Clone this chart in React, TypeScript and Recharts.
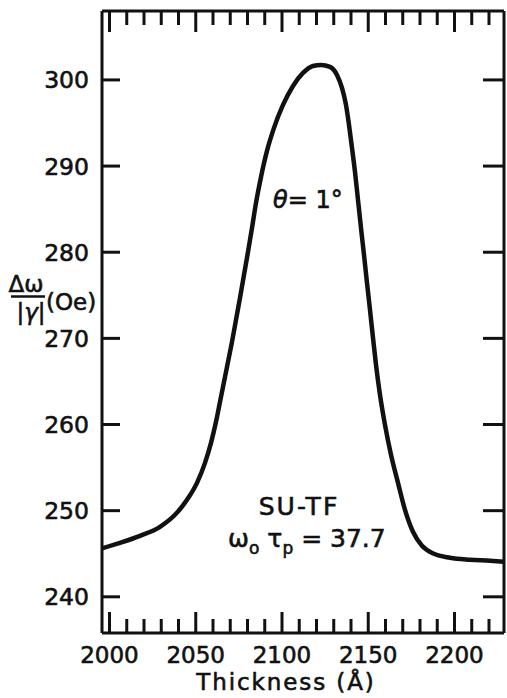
import React from 'react';
import { LineChart, Line, XAxis, YAxis, Customized } from 'recharts';

const thickness = [
  1995.65, 2006.09, 2017.68, 2029.28, 2037.97, 2044.93, 2050.72, 2055.36, 2058.84, 2061.74,
  2064.06, 2066.38, 2068.7, 2071.01, 2073.33, 2075.65, 2077.97, 2080.29, 2082.61, 2084.93,
  2087.83, 2091.3, 2095.36, 2100.58, 2106.38, 2112.17, 2117.97, 2122.61, 2127.83, 2131.88,
  2134.78, 2137.1, 2138.84, 2140.58, 2142.32, 2144.06, 2145.8, 2147.54, 2149.28, 2151.01,
  2152.75, 2154.49, 2156.81, 2159.71, 2163.19, 2167.25, 2171.3, 2175.94, 2181.16, 2188.12,
  2197.39, 2208.99, 2220.58, 2228.7,
];
const linewidth = [
  245.63, 246.27, 247.08, 248.13, 249.52, 251.26, 253.23, 255.55, 257.87, 260.31,
  262.63, 264.95, 267.27, 269.59, 272.15, 274.7, 277.37, 280.04, 282.82, 285.73,
  288.74, 291.76, 294.43, 297.1, 299.3, 300.81, 301.62, 301.74, 301.51, 300.58,
  299.07, 297.1, 294.78, 292.11, 289.32, 286.07, 282.82, 279.69, 276.44, 273.31,
  270.06, 266.93, 263.44, 259.96, 256.48, 253.23, 250.1, 247.55, 245.92, 244.99,
  244.53, 244.3, 244.18, 244.06,
];

const xMinorTicks = [2000, 2010, 2020, 2030, 2040, 2050, 2060, 2070, 2080, 2090, 2100, 2110, 2120, 2130, 2140, 2150, 2160, 2170, 2180, 2190, 2200, 2210, 2220];
const xLabelTicks = [2000, 2050, 2100, 2150, 2200];
const yTicks = [240, 250, 260, 270, 280, 290, 300];
const X_DOMAIN: [number, number] = [1995.65, 2228.7];
const Y_DOMAIN: [number, number] = [235.8, 308.0];

const data = thickness.map((t, i) => ({ t, v: linewidth[i] }));

const FONT = "'DejaVu Sans', sans-serif";
const INK = '#111';
const TEXT_STROKE = 0.6;

const BottomTick = (props: any) => {
  const { x, y, payload } = props;
  const v = payload.value;
  const major = xLabelTicks.includes(v);
  return (
    <g>
      <line x1={x} x2={x} y1={y} y2={y - (major ? 21 : 14)} stroke={INK} strokeWidth={3} />
      {major && (
        <text x={x} y={y + 30} textAnchor="middle" fontFamily={FONT} fontSize={23} fill={INK} stroke={INK} strokeWidth={TEXT_STROKE}>
          {v}
        </text>
      )}
    </g>
  );
};

const TopTick = (props: any) => {
  const { x, y, payload } = props;
  const major = xLabelTicks.includes(payload.value);
  return <line x1={x} x2={x} y1={y} y2={y + (major ? 21 : 14)} stroke={INK} strokeWidth={3} />;
};

const LeftTick = (props: any) => {
  const { x, y, payload } = props;
  return (
    <g>
      <line x1={x} x2={x + 18} y1={y} y2={y} stroke={INK} strokeWidth={3} />
      <text x={x - 13} y={y + 8.5} textAnchor="end" fontFamily={FONT} fontSize={23.5} fill={INK} stroke={INK} strokeWidth={TEXT_STROKE}>
        {payload.value}
      </text>
    </g>
  );
};

const RightTick = (props: any) => {
  const { x, y } = props;
  return <line x1={x} x2={x - 21} y1={y} y2={y} stroke={INK} strokeWidth={3} />;
};

const Annotations = () => (
  <g fontFamily={FONT} fill={INK} stroke={INK} strokeWidth={TEXT_STROKE}>
    {/* y-axis label: Δω / |γ| (Oe) */}
    <text x={26} y={292} textAnchor="middle" fontSize={23}>Δω</text>
    <line x1={11} x2={45} y1={296.5} y2={296.5} stroke={INK} strokeWidth={2.5} />
    <text x={31} y={320} textAnchor="middle" fontSize={23}>|<tspan fontStyle="italic">γ</tspan>|</text>
    <text x={46} y={310} fontSize={23}>(Oe)</text>
    {/* theta */}
    <text x={273} y={208} fontSize={24}>
      <tspan fontStyle="italic">θ</tspan>= 1°
    </text>
    {/* SU-TF */}
    <text x={299} y={515} textAnchor="middle" fontSize={25} letterSpacing={2}>SU-TF</text>
    <text x={228} y={547} fontSize={25}>
      <tspan>ω</tspan>
      <tspan fontSize={17} dy={7}>o</tspan>
      <tspan dx={8} dy={-7}>τ</tspan>
      <tspan fontSize={17} dy={7}>p</tspan>
      <tspan dy={-7}> = 37.7</tspan>
    </text>
    {/* x-axis title */}
    <text x={286} y={690} textAnchor="middle" fontSize={23} letterSpacing={1.9}>Thickness (Å)</text>
  </g>
);

export default function App() {
  return (
    <div style={{ position: 'absolute', left: 0, top: 0, width: 507, height: 698, background: '#fff' }}>
      <LineChart width={507} height={698} data={data} margin={{ top: 10, right: 2, bottom: 64, left: 101 }}>
        <XAxis
          xAxisId="bottom"
          dataKey="t"
          type="number"
          orientation="bottom"
          domain={X_DOMAIN}
          allowDataOverflow
          ticks={xMinorTicks}
          interval={0}
          height={1}
          tickSize={0}
          tickMargin={0}
          tickLine={false}
          tick={<BottomTick />}
          axisLine={{ stroke: INK, strokeWidth: 3 }}
        />
        <XAxis
          xAxisId="top"
          dataKey="t"
          type="number"
          orientation="top"
          domain={X_DOMAIN}
          allowDataOverflow
          ticks={xMinorTicks}
          interval={0}
          height={1}
          tickSize={0}
          tickMargin={0}
          tickLine={false}
          tick={<TopTick />}
          axisLine={{ stroke: INK, strokeWidth: 3 }}
        />
        <YAxis
          yAxisId="left"
          type="number"
          orientation="left"
          domain={Y_DOMAIN}
          allowDataOverflow
          ticks={yTicks}
          interval={0}
          width={1}
          tickSize={0}
          tickMargin={0}
          tickLine={false}
          tick={<LeftTick />}
          axisLine={{ stroke: INK, strokeWidth: 3 }}
        />
        <YAxis
          yAxisId="right"
          type="number"
          orientation="right"
          domain={Y_DOMAIN}
          allowDataOverflow
          ticks={yTicks}
          interval={0}
          width={1}
          tickSize={0}
          tickMargin={0}
          tickLine={false}
          tick={<RightTick />}
          axisLine={{ stroke: INK, strokeWidth: 3 }}
        />
        <Line
          xAxisId="bottom"
          yAxisId="left"
          dataKey="v"
          type="monotone"
          stroke={INK}
          strokeWidth={4.5}
          dot={false}
          isAnimationActive={false}
        />
        <Customized component={Annotations} />
      </LineChart>
    </div>
  );
}
